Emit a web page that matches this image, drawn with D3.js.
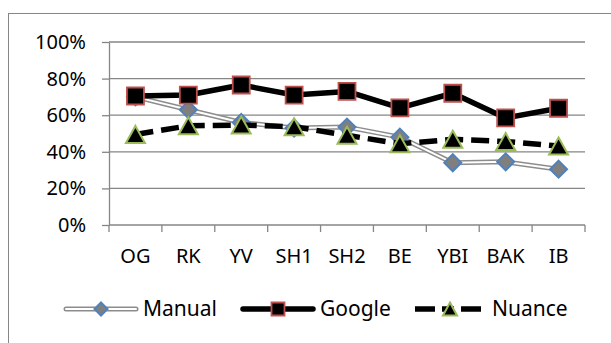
<!DOCTYPE html>
<html>
<head>
<meta charset="utf-8">
<script src="https://cdn.jsdelivr.net/npm/d3@7"></script>
<style>
  body { margin: 0; background: #fff; }
  text { font-family: "Noto Sans", sans-serif; fill: #000; }
</style>
</head>
<body>
<div id="chart"></div>
<script>
// categories and series (fractions of 1)
const categories = ["OG", "RK", "YV", "SH1", "SH2", "BE", "YBI", "BAK", "IB"];
const manual = [0.70, 0.63, 0.56, 0.53, 0.535, 0.48, 0.34, 0.345, 0.305];
const google = [0.705, 0.71, 0.765, 0.71, 0.73, 0.64, 0.72, 0.585, 0.638];
const nuance = [0.495, 0.542, 0.546, 0.537, 0.49, 0.444, 0.468, 0.456, 0.432];
const yTicks = [0, 0.2, 0.4, 0.6, 0.8, 1];
const seriesNames = ["Manual", "Google", "Nuance"];

const width = 611, height = 343;
const gray = "#868686";

let svg = d3.select("#chart")
            .append("svg")
            .attr("width", width)
            .attr("height", height);

// outer chart border (runs off the right and bottom edge like the original)
svg.append("rect")
   .attr("x", 8.5).attr("y", 13.5)
   .attr("width", 700).attr("height", 400)
   .attr("fill", "none")
   .attr("stroke", gray);

let x = d3.scaleBand()
          .domain(categories)
          .range([109, 585])
          .padding(0);

let y = d3.scaleLinear()
          .domain([0, 1])
          .range([225, 42]);

let cx = d => x(d) + x.bandwidth() / 2;

// gridlines
svg.append("g")
   .selectAll("line")
   .data(yTicks.filter(t => t > 0))
   .enter().append("line")
   .attr("x1", 109).attr("x2", 585)
   .attr("y1", d => y(d)).attr("y2", d => y(d))
   .attr("stroke", gray)
   .attr("stroke-width", 1.3);

// y axis
let yAxis = svg.append("g")
   .attr("transform", "translate(109,0)")
   .call(d3.axisLeft(y).tickValues(yTicks).tickFormat(d3.format(".0%")).tickSize(7).tickSizeOuter(0).tickPadding(16));
yAxis.selectAll("path, line").attr("stroke", gray).attr("stroke-width", 1.3);
yAxis.selectAll("text").attr("font-size", 20).attr("font-family", "Noto Sans");

// x axis: line plus ticks between categories
let xAxis = svg.append("g");
xAxis.append("line")
     .attr("x1", 109).attr("x2", 585)
     .attr("y1", y(0)).attr("y2", y(0))
     .attr("stroke", gray).attr("stroke-width", 1.3);
xAxis.selectAll(".tick")
     .data(categories.map(c => x(c)).concat([x.range()[1]]))
     .enter().append("line")
     .attr("x1", d => d).attr("x2", d => d)
     .attr("y1", y(0)).attr("y2", y(0) + 7)
     .attr("stroke", gray).attr("stroke-width", 1.3);
xAxis.selectAll("text")
     .data(categories)
     .enter().append("text")
     .attr("x", d => cx(d))
     .attr("y", 263)
     .attr("text-anchor", "middle")
     .attr("font-size", 20)
     .text(d => d);

// marker shapes
function diamond(r) { return `M0,${-r}L${r},0L0,${r}L${-r},0Z`; }
function square(s) { return `M${-s},${-s}H${s}V${s}H${-s}Z`; }
function triangle(w, h) { return `M0,${-h / 2}L${w / 2},${h / 2}L${-w / 2},${h / 2}Z`; }

let line = d3.line()
             .x((d, i) => cx(categories[i]))
             .y(d => y(d));

// Manual: grey double line, grey diamonds with blue edge
let gm = svg.append("g");
gm.append("path").attr("d", line(manual)).attr("fill", "none")
  .attr("stroke", "#8c8c8c").attr("stroke-width", 5).attr("stroke-linejoin", "round");
gm.append("path").attr("d", line(manual)).attr("fill", "none")
  .attr("stroke", "#fff").attr("stroke-width", 2).attr("stroke-linejoin", "round");
gm.selectAll("path.m").data(manual).enter().append("path")
  .attr("class", "m")
  .attr("d", diamond(8.5))
  .attr("transform", (d, i) => "translate(" + cx(categories[i]) + "," + y(d) + ")")
  .attr("fill", "#7f7f7f").attr("stroke", "#4f81bd").attr("stroke-width", 2);

// Google: thick black line, black squares with red edge
let gg = svg.append("g");
gg.append("path").attr("d", line(google)).attr("fill", "none")
  .attr("stroke", "#000").attr("stroke-width", 5.5).attr("stroke-linejoin", "round");
gg.selectAll("path.m").data(google).enter().append("path")
  .attr("class", "m")
  .attr("d", square(8.5))
  .attr("transform", (d, i) => "translate(" + cx(categories[i]) + "," + y(d) + ")")
  .attr("fill", "#000").attr("stroke", "#c0504d").attr("stroke-width", 1.8);

// Nuance: dashed black line, black triangles with green edge
let gn = svg.append("g");
gn.append("path").attr("d", line(nuance)).attr("fill", "none")
  .attr("stroke", "#000").attr("stroke-width", 5.5).attr("stroke-dasharray", "18,8");
gn.selectAll("path.m").data(nuance).enter().append("path")
  .attr("class", "m")
  .attr("d", triangle(19, 17))
  .attr("transform", (d, i) => "translate(" + cx(categories[i]) + "," + y(d) + ")")
  .attr("fill", "#000").attr("stroke", "#9bbb59").attr("stroke-width", 2);

// legend
let legendX = [66, 243, 415];
let ly = 309;
let lg = svg.append("g");

lg.append("line").attr("x1", legendX[0]).attr("x2", legendX[0] + 70).attr("y1", ly).attr("y2", ly)
  .attr("stroke", "#8c8c8c").attr("stroke-width", 5).attr("stroke-linecap", "round");
lg.append("line").attr("x1", legendX[0]).attr("x2", legendX[0] + 70).attr("y1", ly).attr("y2", ly)
  .attr("stroke", "#fff").attr("stroke-width", 2).attr("stroke-linecap", "round");
lg.append("path").attr("d", diamond(6.5)).attr("transform", "translate(" + (legendX[0] + 35) + "," + ly + ")")
  .attr("fill", "#7f7f7f").attr("stroke", "#4f81bd").attr("stroke-width", 2);

lg.append("line").attr("x1", legendX[1]).attr("x2", legendX[1] + 70).attr("y1", ly).attr("y2", ly)
  .attr("stroke", "#000").attr("stroke-width", 5.5).attr("stroke-linecap", "round");
lg.append("path").attr("d", square(6.5)).attr("transform", "translate(" + (legendX[1] + 35) + "," + ly + ")")
  .attr("fill", "#000").attr("stroke", "#c0504d").attr("stroke-width", 1.8);

lg.append("line").attr("x1", legendX[2]).attr("x2", legendX[2] + 66).attr("y1", ly).attr("y2", ly)
  .attr("stroke", "#000").attr("stroke-width", 5.5).attr("stroke-dasharray", "20,7,12,7,20");
lg.append("path").attr("d", triangle(14, 13)).attr("transform", "translate(" + (legendX[2] + 35) + "," + ly + ")")
  .attr("fill", "#000").attr("stroke", "#9bbb59").attr("stroke-width", 2);

lg.selectAll("text")
  .data(seriesNames)
  .enter().append("text")
  .attr("x", (d, i) => [143, 320, 492][i])
  .attr("y", 316)
  .attr("font-size", 21)
  .text(d => d);
</script>
</body>
</html>
